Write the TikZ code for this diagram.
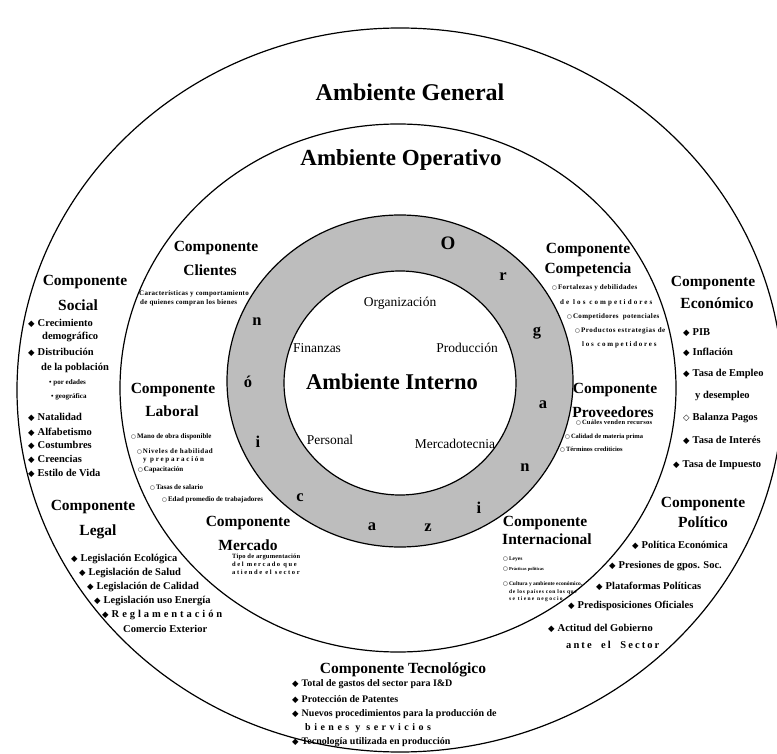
\documentclass[tikz,border=0pt]{standalone}
\usepackage{fontspec}
\setmainfont{Liberation Serif}
\newfontfamily\symf{DejaVu Sans}
\newcommand{\dia}{{\symf\fontsize{8.5}{8.5}\selectfont ◆}\hspace{3pt}}
\newcommand{\hdia}{{\symf\fontsize{8.5}{8.5}\selectfont ◇}\hspace{3pt}}
\newcommand{\cir}{{\symf\fontsize{5.5}{5.5}\selectfont ○}\hspace{1pt}}
\newcommand{\lsp}[2]{{\addfontfeature{LetterSpace=#1}#2}}
\begin{document}
\begin{tikzpicture}[x=1pt,y=-1pt,
  ringline/.style={line width=1.2pt},
  title/.style={font=\bfseries\fontsize{23}{24}\selectfont, inner sep=0pt},
  head/.style={font=\bfseries\fontsize{15.5}{16}\selectfont, inner sep=0pt},
  item/.style={font=\bfseries\fontsize{10.5}{11}\selectfont, anchor=west, inner sep=0pt},
  titem/.style={font=\bfseries\fontsize{10}{11}\selectfont, anchor=west, inner sep=0pt},
  tiny/.style={font=\bfseries\fontsize{7}{8}\selectfont, anchor=west, inner sep=0pt},
  wee/.style={font=\bfseries\fontsize{5.5}{6}\selectfont, anchor=west, inner sep=0pt},
  core/.style={font=\fontsize{13.5}{14}\selectfont, inner sep=0pt},
  orgl/.style={font=\bfseries\fontsize{16.5}{17}\selectfont, inner sep=0pt},
]
\useasboundingbox (0,0) rectangle (777,754);
\fill[white] (0,0) rectangle (777,754);

% three environments
\draw[ringline] (400,390) ellipse [x radius=383pt, y radius=362pt];
\draw[ringline] (398,388) ellipse [x radius=278pt, y radius=264pt];
\fill[black!26, even odd rule] (400,381) ellipse [x radius=173pt, y radius=166pt]
                               (400,383) ellipse [x radius=116pt, y radius=112pt];
\draw[ringline] (400,381) ellipse [x radius=173pt, y radius=166pt];
\draw[ringline] (400,383) ellipse [x radius=116pt, y radius=112pt];

% titles
\node[title, font=\bfseries\fontsize{24}{24}\selectfont] (gen) at (410,92) {Ambiente General};
\node[title] (ope) at (401,160) {Ambiente Operativo};
\node[title, font=\bfseries\fontsize{22.5}{23}\selectfont] (intr) at (392,382) {Ambiente Interno};

% internal areas
\node[core] (org) at (400,303) {Organización};
\node[core] (fin) at (317,348) {Finanzas};
\node[core] (pro) at (467,348) {Producción};
\node[core] (per) at (330,440) {Personal};
\node[core] (mer) at (455,444) {Mercadotecnia};

% word around the ring
\node[orgl, font=\bfseries\fontsize{19}{19}\selectfont] (l1) at (448,243) {O};
\node[orgl] (l2) at (503,277) {r};
\node[orgl] (l3) at (537,333) {g};
\node[orgl] (l4) at (543,405) {a};
\node[orgl] (l5) at (525,468) {n};
\node[orgl] (l6) at (479,508) {i};
\node[orgl] (l7) at (428,528) {z};
\node[orgl] (l8) at (372,527) {a};
\node[orgl] (l9) at (300,498) {c};
\node[orgl] (l10) at (258,442) {i};
\node[orgl] (l11) at (248,382) {ó};
\node[orgl] (l12) at (257,322) {n};

% Componente Social
\node[head] (soc1) at (85,282) {Componente};
\node[head] (soc2) at (78,305) {Social};
\node[item] (s1) at (28,323) {\dia Crecimiento};
\node[item] (s1b) at (42,337) {demográfico};
\node[item] (s2) at (28,352) {\dia Distribución};
\node[item] (s2b) at (41,368) {de la población};
\node[tiny] (s2c) at (49,383) {\textbullet\ por edades};
\node[tiny] (s2d) at (51,397) {\textbullet\ geográfica};
\node[item] (s3) at (28,417) {\dia Natalidad};
\node[item] (s4) at (28,432) {\dia Alfabetismo};
\node[item] (s5) at (28,445) {\dia Costumbres};
\node[item] (s6) at (28,459) {\dia Creencias};
\node[item] (s7) at (28,473) {\dia Estilo de Vida};

% Componente Economico
\node[head] (eco1) at (713,283) {Componente};
\node[head] (eco2) at (717,303) {Económico};
\node[item] (e1) at (683,333) {\dia PIB};
\node[item] (e2) at (683,352) {\dia Inflación};
\node[item] (e3) at (683,374) {\dia Tasa de Empleo};
\node[item] (e3b) at (695,396) {y desempleo};
\node[item] (e4) at (683,418) {\hdia Balanza Pagos};
\node[item] (e5) at (683,440) {\dia Tasa de Interés};
\node[item] (e6) at (673,465) {\dia Tasa de Impuesto};

% Componente Competencia
\node[head] (com1) at (588,250) {Componente};
\node[head] (com2) at (588,270) {Competencia};
\node[tiny] (c1) at (552,288) {\cir\lsp{5}{Fortalezas y debilidades}};
\node[tiny] (c1b) at (560,303) {\lsp{30}{de los competidores}};
\node[tiny] (c2) at (567,317) {\cir\lsp{5}{Competidores\ \ potenciales}};
\node[tiny] (c3) at (575,331) {\cir\lsp{8}{Productos estrategias de}};
\node[tiny] (c3b) at (582,345) {\lsp{25}{los competidores}};

% Componente Clientes
\node[head] (cli1) at (216,248) {Componente};
\node[head] (cli2) at (210,270) {Clientes};
\node[tiny] (k1) at (139,294) {\lsp{4}{Características y comportamiento}};
\node[tiny] (k2) at (140,303) {\lsp{4}{de quienes compran los bienes}};

% Componente Laboral
\node[head] (lab1) at (173,390) {Componente};
\node[head] (lab2) at (172,411) {Laboral};
\node[tiny] (b1) at (131,437) {\cir Mano de obra disponible};
\node[tiny] (b2) at (137,451) {\cir\lsp{8}{Niveles de habilidad}};
\node[tiny] (b2b) at (143,460) {\lsp{25}{y preparación}};
\node[tiny] (b3) at (138,470) {\cir Capacitación};
\node[tiny] (b4) at (150,487) {\cir Tasas de salario};
\node[tiny] (b5) at (162,500) {\cir Edad promedio de trabajadores};

% Componente Proveedores
\node[head] (prv1) at (615,390) {Componente};
\node[head] (prv2) at (613,412) {Proveedores};
\node[tiny, font=\bfseries\fontsize{6.5}{7}\selectfont] (v1) at (576,423) {\cir\lsp{4}{Cuáles venden recursos}};
\node[tiny, font=\bfseries\fontsize{6.5}{7}\selectfont] (v2) at (565,437) {\cir Calidad de materia prima};
\node[tiny, font=\bfseries\fontsize{6.5}{7}\selectfont] (v3) at (560,450) {\cir Términos crediticios};

% Componente Mercado
\node[head] (mer1) at (248,523) {Componente};
\node[head] (mer2) at (248,545) {Mercado};
\node[tiny, font=\bfseries\fontsize{6.5}{7}\selectfont] (m1) at (232,557) {\lsp{3}{Tipo de argumentación}};
\node[tiny, font=\bfseries\fontsize{6.5}{7}\selectfont] (m2) at (232,565) {\lsp{24}{del mercado que}};
\node[tiny, font=\bfseries\fontsize{6.5}{7}\selectfont] (m3) at (232,572) {\lsp{25}{atiende el sector}};

% Componente Legal
\node[head] (leg1) at (93,507) {Componente};
\node[head] (leg2) at (98,532) {Legal};
\node[item] (g1) at (71,559) {\dia Legislación Ecológica};
\node[item] (g2) at (79,573) {\dia Legislación de Salud};
\node[item] (g3) at (87,587) {\dia Legislación de Calidad};
\node[item] (g4) at (94,601) {\dia Legislación uso Energía};
\node[item] (g5) at (102,615) {\dia\lsp{28}{Reglamentación}};
\node[item] (g5b) at (123,629) {Comercio Exterior};

% Componente Internacional
\node[head] (inn1) at (545,523) {Componente};
\node[head] (inn2) at (547,539) {Internacional};
\node[wee] (n1) at (503,559) {\cir Leyes};
\node[wee, font=\bfseries\fontsize{4.5}{5}\selectfont] (n2) at (503,569) {\cir Prácticas políticas};
\node[wee] (n3) at (503,584) {\cir Cultura y ambiente económico,};
\node[wee] (n3b) at (509,592) {\lsp{11}{de los países con los que}};
\node[wee] (n3c) at (509,599) {\lsp{24}{se tiene negocio}};

% Componente Politico
\node[head] (pol1) at (703,504) {Componente};
\node[head] (pol2) at (703,522) {Político};
\node[item] (p1) at (632,545) {\dia Política Económica};
\node[item] (p2) at (609,566) {\dia Presiones de gpos. Soc.};
\node[item] (p3) at (596,586) {\dia Plataformas Políticas};
\node[item] (p4) at (568,606) {\dia Predisposiciones Oficiales};
\node[item] (p5) at (548,628) {\dia Actitud del Gobierno};
\node[item] (p5b) at (566,645) {\lsp{20}{ante\ \ el\ \ Sector}};

% Componente Tecnologico
\node[head] (tec) at (403,670) {Componente Tecnológico};
\node[titem] (t1) at (292,684) {\dia Total de gastos del sector para I\&D};
\node[titem] (t2) at (292,700) {\dia Protección de Patentes};
\node[titem] (t3) at (292,714) {\dia Nuevos procedimientos para la producción de};
\node[titem] (t3b) at (305,728) {\lsp{35}{bienes\ y\ servicios}};
\node[titem] (t4) at (292,742) {\dia Tecnología utilizada en producción};
\end{tikzpicture}
\end{document}
